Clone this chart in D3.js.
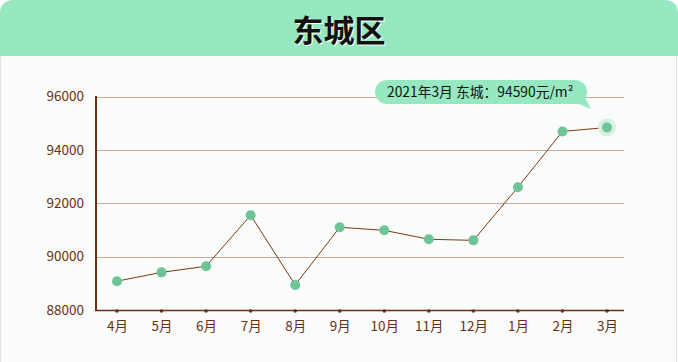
<!DOCTYPE html>
<html>
<head>
<meta charset="utf-8">
<script src="https://cdn.jsdelivr.net/npm/d3@7"></script>
<style>
  body { margin: 0; background: #ffffff; }
  svg { display: block; font-family: "Noto Sans CJK SC", "Noto Sans", sans-serif; }
</style>
</head>
<body>
<div id="chart"></div>
<script>
var months = ["4月", "5月", "6月", "7月", "8月", "9月", "10月", "11月", "12月", "1月", "2月", "3月"];
var prices = [89080, 89410, 89640, 91550, 88940, 91100, 90985, 90650, 90610, 92600, 94690, 94840];
var yTicks = [88000, 90000, 92000, 94000, 96000];
var title = "东城区";
var tipText = "2021年3月 东城：94590元/m²";

var fullW = 678, fullH = 362;
var brown = "#6b2f0f";

var svg = d3.select("#chart")
            .append("svg")
            .attr("width", fullW)
            .attr("height", fullH);

// card body + header
svg.append("rect")
   .attr("x", 0.5).attr("y", 20)
   .attr("width", fullW - 2).attr("height", fullH - 19)
   .attr("fill", "#fafcfb")
   .attr("stroke", "#e4e6e5");

svg.append("path")
   .attr("d", "M0,56 L0,14 Q0,0 14,0 L664,0 Q678,0 678,14 L678,56 Z")
   .attr("fill", "#95e8bf");

svg.append("text")
   .attr("x", fullW / 2 + 1).attr("y", 43)
   .attr("text-anchor", "middle")
   .attr("font-size", 31).attr("font-weight", "bold")
   .attr("fill", "#ffffff")
   .text(title);
svg.append("text")
   .attr("x", fullW / 2).attr("y", 42)
   .attr("text-anchor", "middle")
   .attr("font-size", 31).attr("font-weight", "bold")
   .attr("fill", "#111111")
   .text(title);

var xScale = d3.scalePoint()
               .domain(months)
               .range([117, 607]);

var yScale = d3.scaleLinear()
               .domain([88000, 96000])
               .range([310, 96.5]);

var g = svg.append("g");

// grid
g.append("g")
 .selectAll("line.grid")
 .data(yTicks.filter(function(d) { return d > 88000; }))
 .enter()
 .append("line")
 .attr("class", "grid")
 .attr("x1", 96).attr("x2", 624)
 .attr("y1", function(d) { return Math.round(yScale(d)) + 0.5; })
 .attr("y2", function(d) { return Math.round(yScale(d)) + 0.5; })
 .attr("stroke", "#c9aa9c")
 .attr("stroke-width", 1);

// y axis labels
var yAxis = d3.axisLeft(yScale).tickValues(yTicks).tickFormat(d3.format("d")).tickSize(0).tickPadding(12);
var ya = g.append("g")
  .attr("class", "y-axis")
  .attr("transform", "translate(96,0)")
  .call(yAxis);
ya.select(".domain").remove();
ya.selectAll("text")
  .attr("font-size", 13.5)
  .attr("fill", brown)
  .attr("font-family", "'Noto Sans CJK SC', sans-serif");

// x axis labels
var xAxis = d3.axisBottom(xScale).tickSize(0).tickPadding(10);
var xa = g.append("g")
  .attr("class", "x-axis")
  .attr("transform", "translate(0,311)")
  .call(xAxis);
xa.select(".domain").remove();
xa.selectAll("text")
  .attr("font-size", 13.5)
  .attr("fill", brown)
  .attr("font-family", "'Noto Sans CJK SC', sans-serif");

// axis lines
g.append("line")
 .attr("x1", 96).attr("x2", 96)
 .attr("y1", 96).attr("y2", 311)
 .attr("stroke", brown).attr("stroke-width", 2);
g.append("line")
 .attr("x1", 95).attr("x2", 624)
 .attr("y1", 310.5).attr("y2", 310.5)
 .attr("stroke", brown).attr("stroke-width", 1.5);

// tick dots
g.append("g")
 .selectAll("circle.tick-dot")
 .data(months)
 .enter()
 .append("circle")
 .attr("class", "tick-dot")
 .attr("cx", function(d) { return xScale(d); })
 .attr("cy", 311)
 .attr("r", 1.8)
 .attr("fill", brown);

// line
var line = d3.line()
  .x(function(d, i) { return xScale(months[i]); })
  .y(function(d) { return yScale(d); });

g.append("path")
 .datum(prices)
 .attr("d", line)
 .attr("fill", "none")
 .attr("stroke", "#7a3a18")
 .attr("stroke-width", 1);

// highlight halo on last point
var last = prices.length - 1;
g.append("circle")
 .attr("cx", xScale(months[last]))
 .attr("cy", yScale(prices[last]))
 .attr("r", 9)
 .attr("fill", "#d6efe1");

g.append("g")
 .selectAll("circle.pt")
 .data(prices)
 .enter()
 .append("circle")
 .attr("class", "pt")
 .attr("cx", function(d, i) { return xScale(months[i]); })
 .attr("cy", function(d) { return yScale(d); })
 .attr("r", 5)
 .attr("fill", "#6cc497");

// tooltip bubble
var tip = svg.append("g");
tip.append("path")
   .attr("d", "M570,100 L591,109 L582,92 Z")
   .attr("fill", "#95e8bf");
tip.append("rect")
   .attr("x", 375).attr("y", 80)
   .attr("width", 212).attr("height", 24)
   .attr("rx", 12).attr("ry", 12)
   .attr("fill", "#95e8bf");
tip.append("text")
   .attr("x", 387).attr("y", 97)
   .attr("font-size", 13.8)
   .attr("fill", "#111111")
   .text(tipText);
</script>
</body>
</html>
